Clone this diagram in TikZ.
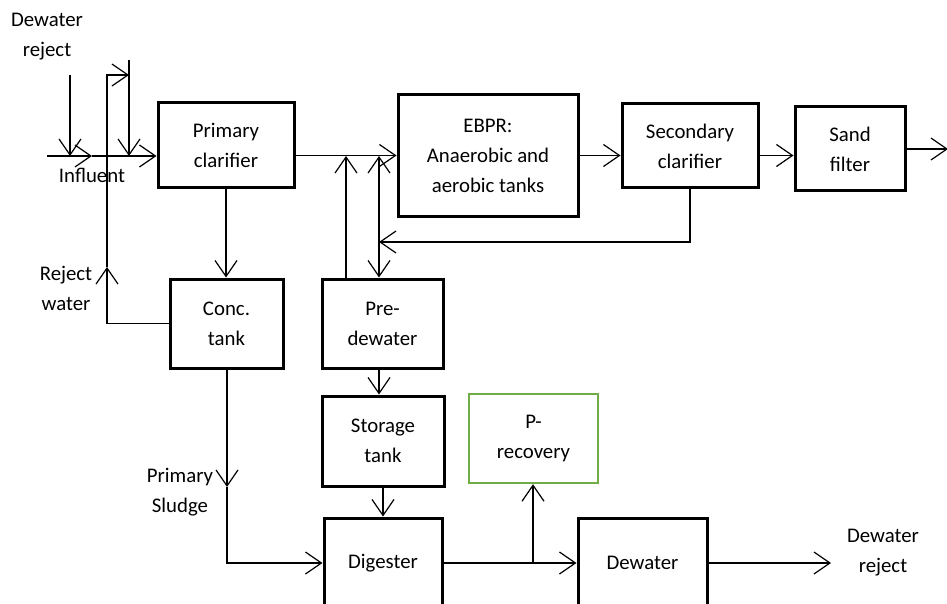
\documentclass[tikz,border=0pt]{standalone}
\usepackage{fontspec}
\setmainfont{Carlito}
\usetikzlibrary{arrows.meta}
\definecolor{pgreen}{RGB}{112,173,71}
\begin{document}
\begin{tikzpicture}[x=1pt,y=-1pt,>={Straight Barb[length=16pt,width=22pt]},
  box/.style={draw,line width=3pt,align=center,inner sep=0pt},
  flow/.style={line width=1.2pt,->},
  lbl/.style={align=center},
  font=\fontsize{20.8}{30}\selectfont]
\useasboundingbox (0,0) rectangle (947,604);
% process units
\node[box,minimum width=136,minimum height=85] (prim) at (226,145.5) {Primary\\clarifier};
\node[box,minimum width=180,minimum height=121] (ebpr) at (488,155.5) {EBPR:\\Anaerobic and\\aerobic tanks};
\node[box,minimum width=136,minimum height=84] (sec) at (690,146) {Secondary\\clarifier};
\node[box,minimum width=110,minimum height=84] (sand) at (850,149) {Sand\\filter};
\node[box,minimum width=113,minimum height=89] (conc) at (226.5,323.5) {Conc.\\tank};
\node[box,minimum width=121,minimum height=89] (pre) at (382.5,323.5) {Pre-\\dewater};
\node[box,minimum width=122,minimum height=90] (stor) at (383,441) {Storage\\tank};
\node[box,draw=pgreen,line width=2.4pt,minimum width=129,minimum height=89] (prec) at (533.5,438.5) {P-\\recovery};
\node[box,minimum width=118,minimum height=90] (dig) at (383,563) {Digester};
\node[box,minimum width=129,minimum height=90] (dew) at (642.5,563) {Dewater};
% labels
\node[lbl] (dwin) at (47,37) {Dewater\\reject};
\node[lbl] (infl) at (92,175) {Influent};
\node[lbl] (rejw) at (66,288) {Reject\\water};
\node[lbl] (psl) at (180,492) {Primary\\Sludge};
\node[lbl] (dwout) at (883,553) {Dewater\\reject};
% free ends and bends
\coordinate (inl) at (47,156);
\coordinate (inm) at (92,156);
\coordinate (dwtop) at (70,75);
\coordinate (rtop) at (129,60);
\coordinate (rend) at (129,75);
\coordinate (rmid) at (107,267);
\coordinate (j1) at (346,156);
\coordinate (j2) at (379,156);
\coordinate (ret) at (379,242);
\coordinate (psm) at (227,487);
\coordinate (pr) at (533,563);
\coordinate (out1) at (948,149);
\coordinate (out2) at (831,563);
% flows
\draw[flow] (inl) -- (inm);
\draw[flow] (inm) -- (inm -| prim.west);
\draw[flow] (dwtop) -- (dwtop |- inl);
\draw[flow] (rtop) -- (rtop |- inl);
\draw[flow] (conc.west) -| (rmid);
\draw[flow] (rmid) |- (rend);
\draw[flow] (prim.south) -- (prim.south |- conc.north);
\draw[flow] (prim.east |- ebpr.west) -- (ebpr.west);
\draw[flow] (j1 |- pre.north) -- (j1);
\draw[flow,<->] (j2) -- (j2 |- pre.north);
\draw[flow] (sec.south) |- (ret);
\draw[flow] (ebpr.east) -- (ebpr.east -| sec.west);
\draw[flow] (ebpr.east -| sec.east) -- (ebpr.east -| sand.west);
\draw[flow] (sand.east) -- (out1);
\draw[flow] (j2 |- pre.south) -- (j2 |- stor.north);
\draw[flow] (stor.south) -- (stor.south |- dig.north);
\draw[flow] (psm |- conc.south) -- (psm);
\draw[flow] (psm) |- (dig.west);
\draw[flow] (dig.east) -- (dew.west);
\draw[flow] (pr) -- (pr |- prec.south);
\draw[flow] (dew.east) -- (out2);
\end{tikzpicture}
\end{document}
